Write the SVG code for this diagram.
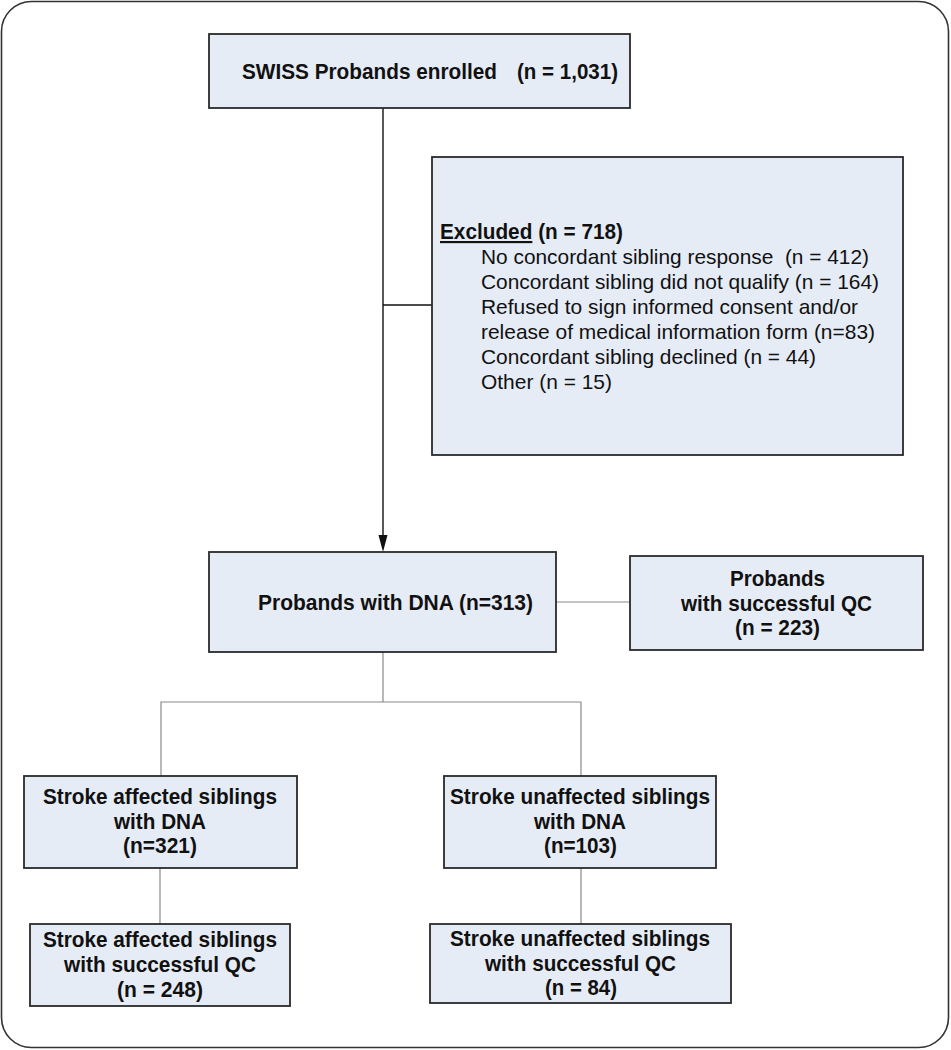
<svg xmlns="http://www.w3.org/2000/svg" width="951" height="1050" viewBox="0 0 951 1050">
<style>
.box{fill:#e6ecf6;stroke:#2a2a2a;stroke-width:1.8}
.b{font-family:"Liberation Sans",Arial,sans-serif;font-weight:bold;font-size:21.5px;fill:#111}
.r{font-family:"Liberation Sans",Arial,sans-serif;font-size:21px;fill:#111}
.thin{stroke:#8a8a8a;stroke-width:1.2;fill:none}
.main{stroke:#111;stroke-width:1.4;fill:none}
</style>
<rect x="1.5" y="1.5" width="947" height="1046" rx="30" ry="30" fill="#fff" stroke="#333" stroke-width="1.6"/>
<g id="connectors">
<path class="main" d="M383,108 V535"/>
<path d="M378.5,535 L387.5,535 L383,552 Z" fill="#111"/>
<path class="main" d="M383,305 H432"/>
<path class="thin" d="M556,602 H630"/>
<path class="thin" d="M383,652 V702 M161,776 V702 H581 V776"/>
<path class="thin" d="M160,868 V924 M581,868 V924"/>
</g>
<g id="enrolled">
<rect class="box" x="209" y="34" width="421" height="74"/>
<text class="b" x="242" y="79" textLength="255" lengthAdjust="spacingAndGlyphs">SWISS Probands enrolled</text>
<text class="b" x="517" y="79" textLength="101" lengthAdjust="spacingAndGlyphs">(n = 1,031)</text>
</g>
<g id="excluded">
<rect class="box" x="432" y="157" width="471" height="298"/>
<text class="b" x="440" y="239" textLength="183" lengthAdjust="spacingAndGlyphs"><tspan text-decoration="underline">Excluded</tspan> (n = 718)</text>
<text class="r" x="481" y="264" textLength="388" lengthAdjust="spacingAndGlyphs">No concordant sibling response &#160;(n = 412)</text>
<text class="r" x="481" y="289" textLength="398" lengthAdjust="spacingAndGlyphs">Concordant sibling did not qualify (n = 164)</text>
<text class="r" x="481" y="314" textLength="377" lengthAdjust="spacingAndGlyphs">Refused to sign informed consent and/or</text>
<text class="r" x="481" y="339" textLength="394" lengthAdjust="spacingAndGlyphs">release of medical information form (n=83)</text>
<text class="r" x="481" y="364" textLength="335" lengthAdjust="spacingAndGlyphs">Concordant sibling declined (n = 44)</text>
<text class="r" x="481" y="389" textLength="131" lengthAdjust="spacingAndGlyphs">Other (n = 15)</text>
</g>
<g id="probands-dna">
<rect class="box" x="209" y="552" width="347" height="100"/>
<text class="b" x="258" y="610" textLength="275" lengthAdjust="spacingAndGlyphs">Probands with DNA (n=313)</text>
</g>
<g id="probands-qc">
<rect class="box" x="630" y="556" width="293" height="94"/>
<text class="b" x="730" y="586" textLength="95" lengthAdjust="spacingAndGlyphs">Probands</text>
<text class="b" x="681" y="611" textLength="191" lengthAdjust="spacingAndGlyphs">with successful QC</text>
<text class="b" x="735" y="635" textLength="85" lengthAdjust="spacingAndGlyphs">(n = 223)</text>
</g>
<g id="affected-dna">
<rect class="box" x="24" y="776" width="273" height="92"/>
<text class="b" x="43" y="804" textLength="234" lengthAdjust="spacingAndGlyphs">Stroke affected siblings</text>
<text class="b" x="114" y="829" textLength="92" lengthAdjust="spacingAndGlyphs">with DNA</text>
<text class="b" x="123" y="853" textLength="74" lengthAdjust="spacingAndGlyphs">(n=321)</text>
</g>
<g id="unaffected-dna">
<rect class="box" x="444" y="776" width="272" height="92"/>
<text class="b" x="450" y="804" textLength="260" lengthAdjust="spacingAndGlyphs">Stroke unaffected siblings</text>
<text class="b" x="534" y="829" textLength="92" lengthAdjust="spacingAndGlyphs">with DNA</text>
<text class="b" x="544" y="853" textLength="73" lengthAdjust="spacingAndGlyphs">(n=103)</text>
</g>
<g id="affected-qc">
<rect class="box" x="30" y="924" width="260" height="82"/>
<text class="b" x="43" y="947" textLength="234" lengthAdjust="spacingAndGlyphs">Stroke affected siblings</text>
<text class="b" x="64" y="972" textLength="192" lengthAdjust="spacingAndGlyphs">with successful QC</text>
<text class="b" x="117" y="997" textLength="86" lengthAdjust="spacingAndGlyphs">(n = 248)</text>
</g>
<g id="unaffected-qc">
<rect class="box" x="430" y="924" width="301" height="79"/>
<text class="b" x="450" y="946" textLength="260" lengthAdjust="spacingAndGlyphs">Stroke unaffected siblings</text>
<text class="b" x="485" y="971" textLength="191" lengthAdjust="spacingAndGlyphs">with successful QC</text>
<text class="b" x="545" y="995" textLength="72" lengthAdjust="spacingAndGlyphs">(n = 84)</text>
</g>
</svg>
